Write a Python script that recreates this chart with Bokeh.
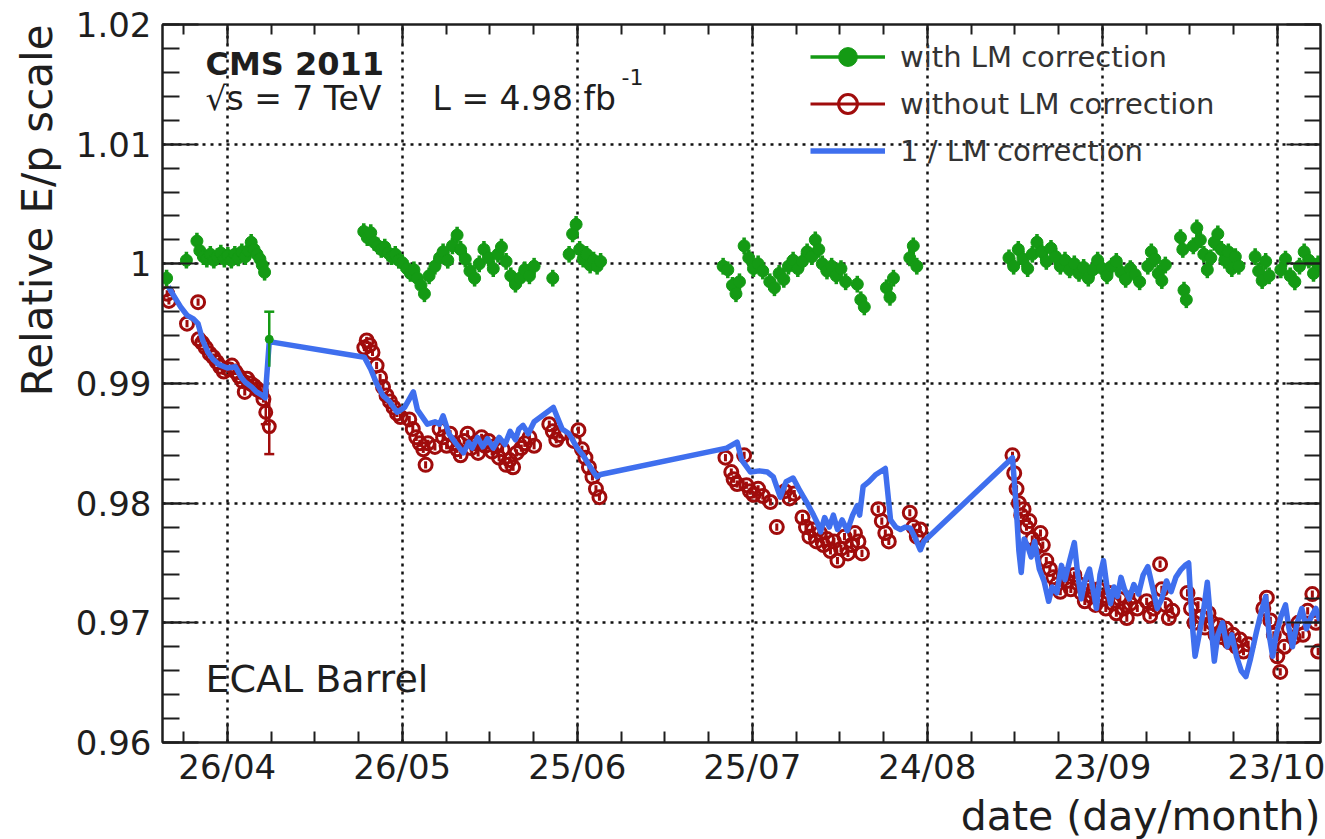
import numpy as np
import pandas as pd
from bokeh.plotting import figure
from bokeh.models import (Range1d, FixedTicker, LinearAxis, DatetimeTickFormatter, Title,
                          CustomJSTickFormatter, Label, Legend, LegendItem, ColumnDataSource)
from bokeh.embed import file_html
from bokeh.resources import INLINE

# ---------------- data (x = days after 26 April 2011, y = relative E/p scale) -------------
REF_DATE = "2011-04-26"

# with LM correction (green)
green_b1 = [(-10.4, 0.9988), (-7.0, 1.0003), (-5.2, 1.0019), (-4.7, 1.0011), (-4.1, 1.0006),
            (-3.5, 1.0004), (-2.9, 1.0008), (-2.3, 1.0003), (-1.7, 1.0006), (-1.1, 1.0009),
            (-0.5, 1.0004), (0.1, 1.0007), (0.7, 1.0003), (1.3, 1.0008), (1.9, 1.0005),
            (2.5, 1.0010), (3.1, 1.0006), (3.6, 1.0011), (4.1, 1.0018), (4.6, 1.0012),
            (5.1, 1.0008), (5.6, 1.0004), (6.0, 0.9999), (6.4, 0.9993)]
green_b2 = [(23.4, 1.0027), (24.0, 1.0022), (24.6, 1.0026), (25.2, 1.0018), (25.8, 1.0015),
            (26.4, 1.0012), (27.0, 1.0014), (27.6, 1.0009), (28.2, 1.0006), (28.8, 1.0008),
            (29.4, 1.0003), (30.0, 1.0001), (30.8, 0.9996), (31.4, 0.9992), (32.0, 0.9995),
            (32.6, 0.9988), (33.2, 0.9982), (33.8, 0.9975), (34.6, 0.9990), (35.6, 0.9998),
            (36.4, 1.0005), (37.0, 1.0010), (37.8, 1.0003), (38.6, 1.0015), (39.4, 1.0024),
            (40.0, 1.0012), (40.8, 1.0004), (41.6, 0.9994), (42.4, 0.9988), (43.2, 1.0000),
            (44.0, 1.0012), (44.8, 1.0005), (45.6, 0.9996), (46.4, 1.0008), (47.0, 1.0014),
            (47.8, 1.0002), (48.6, 0.9990), (49.4, 0.9983), (50.2, 0.9988), (51.0, 0.9995),
            (51.8, 0.9990), (52.6, 0.9998), (55.8, 0.9988), (58.6, 1.0008), (59.2, 1.0025),
            (59.8, 1.0033), (60.4, 1.0012), (61.0, 1.0004), (61.6, 1.0008), (62.2, 0.9999),
            (62.8, 1.0003), (63.4, 0.9998), (64.0, 1.0002)]
green_b3 = [(85.0, 0.9998), (85.8, 0.9995), (86.6, 0.9982), (87.2, 0.9975), (87.8, 0.9985),
            (88.6, 1.0015), (89.4, 1.0005), (90.2, 0.9996), (91.0, 1.0000), (91.8, 0.9994),
            (93.0, 0.9985), (93.8, 0.9980), (94.6, 0.9992), (95.4, 0.9987), (96.2, 0.9998),
            (97.0, 1.0003), (97.8, 0.9996), (98.6, 1.0002), (99.4, 1.0010), (100.2, 1.0006),
            (100.8, 1.0020), (101.4, 1.0012), (102.0, 1.0000), (102.8, 0.9994), (103.6, 0.9998),
            (104.4, 0.9990), (105.2, 0.9996), (106.0, 0.9985), (108.0, 0.9983), (108.6, 0.9970),
            (109.2, 0.9964), (113.0, 0.9980), (113.6, 0.9972), (114.2, 0.9988), (117.0, 1.0005),
            (117.6, 1.0015), (118.2, 0.9998)]
green_b4 = [(134.0, 1.0005), (134.8, 0.9998), (135.6, 1.0012), (136.4, 1.0004), (137.2, 0.9996),
            (138.0, 1.0008), (138.8, 1.0018), (139.6, 1.0010), (140.4, 1.0002), (141.2, 1.0013),
            (142.0, 1.0006), (142.8, 0.9998), (143.6, 1.0003), (144.4, 0.9995), (145.2, 1.0000),
            (146.0, 0.9992), (146.8, 0.9997), (147.6, 0.9988), (148.4, 0.9995), (149.2, 1.0003),
            (150.0, 0.9996), (150.8, 0.9990), (151.6, 0.9998), (152.4, 1.0002), (153.2, 0.9993),
            (154.0, 0.9987), (154.8, 0.9996), (155.6, 0.9991), (156.4, 0.9985), (157.8, 0.9998),
            (158.4, 1.0010), (159.0, 1.0004), (159.6, 0.9992), (160.2, 0.9986), (160.8, 0.9999),
            (163.4, 1.0022), (163.8, 1.0012), (164.0, 0.9978), (164.4, 0.9970), (165.6, 1.0015),
            (166.2, 1.0030), (166.8, 1.0020), (167.4, 1.0008), (168.0, 0.9995), (168.6, 1.0005),
            (169.2, 1.0018), (169.8, 1.0025), (170.4, 1.0012), (171.0, 1.0003), (171.6, 1.0010),
            (172.2, 0.9996), (172.8, 1.0006), (173.4, 0.9998), (176.2, 1.0006), (176.8, 0.9994),
            (177.4, 0.9986), (178.0, 1.0002), (178.6, 0.9990), (180.6, 0.9995), (181.4, 1.0004),
            (182.2, 0.9990), (183.0, 0.9985), (183.8, 0.9998), (184.6, 1.0010), (185.4, 1.0003),
            (186.2, 0.9992), (187.0, 1.0000)]
green_err_typical = 0.0007
green_big = [(7.2, 0.9937, 0.0023)]

# without LM correction (red)
red_b1 = [(-10.3, 0.9975), (-10.0, 0.9969), (-6.9, 0.9950), (-5.0, 0.9968), (-4.9, 0.9937),
          (-4.3, 0.9934), (-3.7, 0.9930), (-3.0, 0.9925), (-2.4, 0.9922), (-1.8, 0.9918),
          (-1.2, 0.9914), (-0.6, 0.9910), (0.2, 0.9912), (0.8, 0.9915), (1.4, 0.9910),
          (2.0, 0.9906), (2.6, 0.9902), (3.0, 0.9893), (3.4, 0.9904), (4.0, 0.9900),
          (4.6, 0.9898), (5.2, 0.9895), (5.8, 0.9893), (6.2, 0.9887)]
red_b2 = [(23.5, 0.9930), (23.9, 0.9936), (24.4, 0.9932), (24.9, 0.9926), (25.6, 0.9915),
          (26.2, 0.9905), (26.7, 0.9897), (27.3, 0.9890), (27.9, 0.9885), (28.5, 0.9880),
          (29.1, 0.9875), (29.7, 0.9872), (31.2, 0.9870), (31.8, 0.9862), (32.4, 0.9855),
          (33.0, 0.9850), (33.6, 0.9845), (34.0, 0.9832), (34.4, 0.9850), (35.6, 0.9847),
          (36.4, 0.9862), (37.0, 0.9855), (37.6, 0.9848), (38.2, 0.9858), (38.8, 0.9850),
          (39.4, 0.9845), (40.0, 0.9840), (40.6, 0.9852), (41.2, 0.9858), (41.8, 0.9846),
          (42.4, 0.9850), (43.0, 0.9842), (43.6, 0.9855), (44.2, 0.9848), (44.8, 0.9852),
          (45.4, 0.9843), (46.0, 0.9848), (46.6, 0.9838), (47.2, 0.9845), (47.8, 0.9832),
          (48.4, 0.9836), (49.0, 0.9830), (49.6, 0.9842), (50.4, 0.9846), (51.0, 0.9850),
          (51.8, 0.9855), (52.6, 0.9848), (55.2, 0.9866), (55.8, 0.9860), (56.4, 0.9853),
          (57.0, 0.9857), (59.4, 0.9852), (60.2, 0.9861), (60.8, 0.9845), (61.4, 0.9838),
          (62.0, 0.9830), (62.6, 0.9822), (63.2, 0.9812), (63.8, 0.9805)]
red_b3 = [(85.4, 0.9838), (86.4, 0.9826), (86.8, 0.9820), (87.4, 0.9816), (88.6, 0.9840),
          (89.0, 0.9815), (89.6, 0.9810), (90.2, 0.9807), (91.0, 0.9812), (91.8, 0.9806),
          (93.1, 0.9801), (94.2, 0.9780), (95.6, 0.9810), (96.4, 0.9804), (97.2, 0.9808),
          (98.6, 0.9788), (99.2, 0.9780), (99.8, 0.9772), (100.4, 0.9778), (101.0, 0.9768),
          (101.6, 0.9775), (102.2, 0.9765), (102.8, 0.9770), (103.4, 0.9760), (104.0, 0.9768),
          (104.6, 0.9752), (105.2, 0.9762), (105.8, 0.9772), (106.4, 0.9758), (107.0, 0.9765),
          (107.6, 0.9775), (108.2, 0.9768), (108.8, 0.9758), (111.6, 0.9795), (112.2, 0.9785),
          (112.8, 0.9775), (113.4, 0.9768), (117.0, 0.9792), (117.6, 0.9780), (118.2, 0.9772),
          (118.8, 0.9778)]
red_b4 = [(134.6, 0.9840), (134.9, 0.9825), (135.3, 0.9812), (135.7, 0.9800), (136.1, 0.9790),
          (136.5, 0.9795), (137.0, 0.9780), (137.5, 0.9785), (138.0, 0.9770), (138.5, 0.9762),
          (139.4, 0.9775), (139.8, 0.9765), (140.4, 0.9752), (141.0, 0.9745), (141.6, 0.9738),
          (142.2, 0.9732), (142.8, 0.9726), (143.4, 0.9740), (144.0, 0.9735), (144.6, 0.9728),
          (145.2, 0.9740), (145.8, 0.9733), (146.4, 0.9725), (147.0, 0.9718), (147.6, 0.9730),
          (148.2, 0.9722), (148.8, 0.9715), (149.4, 0.9728), (150.0, 0.9720), (150.6, 0.9712),
          (151.2, 0.9725), (151.8, 0.9716), (152.4, 0.9708), (153.0, 0.9720), (153.6, 0.9712),
          (154.2, 0.9704), (154.8, 0.9716), (155.4, 0.9722), (156.0, 0.9712), (157.6, 0.9718),
          (158.2, 0.9706), (158.8, 0.9712), (159.9, 0.9749), (160.2, 0.9728), (160.8, 0.9715),
          (161.4, 0.9704), (162.0, 0.9710), (164.6, 0.9725), (165.2, 0.9712), (165.8, 0.9700),
          (166.4, 0.9715), (167.0, 0.9705), (167.6, 0.9696), (168.2, 0.9708), (168.8, 0.9700),
          (169.4, 0.9690), (170.0, 0.9698), (170.6, 0.9688), (171.2, 0.9695), (171.8, 0.9684),
          (172.4, 0.9690), (173.0, 0.9680), (173.6, 0.9686), (174.2, 0.9676), (175.0, 0.9682),
          (177.6, 0.9712), (178.2, 0.9721), (178.8, 0.9702), (179.4, 0.9690), (180.0, 0.9672),
          (180.5, 0.9659), (181.2, 0.9680), (182.0, 0.9695), (182.8, 0.9688), (183.6, 0.9700),
          (184.4, 0.9690), (185.2, 0.9710), (186.0, 0.9724), (186.6, 0.9700), (187.0, 0.9676)]
red_err_typical = 0.0003
red_big = [(6.6, 0.9876, 0.0010), (7.2, 0.9864, 0.0023)]

# 1 / LM correction (blue line)
blue_line = [(-10.1, 0.9981), (-9.0, 0.9972), (-8.0, 0.9964), (-6.9, 0.9957), (-5.8, 0.9954),
             (-5.0, 0.9950), (-4.2, 0.9936), (-3.3, 0.9926), (-2.4, 0.9920), (-1.5, 0.9916),
             (0.0, 0.9913), (1.4, 0.9914), (2.4, 0.9905), (3.1, 0.9901), (4.2, 0.9897),
             (5.0, 0.9893), (6.0, 0.9890), (6.5, 0.9888), (7.2, 0.9935),
             (23.5, 0.9922), (24.6, 0.9912), (25.6, 0.9900), (26.7, 0.9890), (27.8, 0.9885),
             (29.1, 0.9876), (30.4, 0.9880), (31.9, 0.9893), (32.6, 0.9878), (34.3, 0.9866),
             (35.6, 0.9868), (36.4, 0.9866), (37.0, 0.9873), (38.0, 0.9858), (39.2, 0.9850),
             (40.5, 0.9842), (41.4, 0.9851), (42.0, 0.9846), (42.9, 0.9855), (43.8, 0.9847),
             (44.6, 0.9854), (45.6, 0.9846), (46.6, 0.9855), (47.6, 0.9849), (48.5, 0.9860),
             (49.4, 0.9853), (50.0, 0.9862), (50.7, 0.9865), (51.6, 0.9858), (52.6, 0.9868),
             (54.0, 0.9873), (55.9, 0.9880), (57.4, 0.9862), (58.6, 0.9858), (60.0, 0.9846),
             (61.0, 0.9840), (62.0, 0.9832), (62.8, 0.9826), (63.4, 0.9822), (64.0, 0.9824),
             (85.6, 0.9846), (87.4, 0.9851), (88.2, 0.9836), (89.7, 0.9826), (91.2, 0.9827),
             (92.6, 0.9826), (93.6, 0.9822), (94.8, 0.9805), (95.8, 0.9818), (97.0, 0.9821),
             (98.2, 0.9810), (99.4, 0.9800), (100.5, 0.9790), (101.2, 0.9783), (101.7, 0.9776),
             (102.4, 0.9788), (103.2, 0.9780), (103.9, 0.9790), (104.6, 0.9778), (105.4, 0.9786),
             (106.3, 0.9777), (107.2, 0.9790), (108.0, 0.9798), (108.4, 0.9790), (109.0, 0.9814),
             (110.0, 0.9818), (111.2, 0.9824), (112.8, 0.9829), (113.7, 0.9786), (114.6, 0.9780),
             (115.4, 0.9778), (116.2, 0.9780), (117.1, 0.9779), (118.0, 0.9770), (118.8, 0.9761),
             (119.4, 0.9768),
             (134.6, 0.9838), (135.2, 0.9800), (135.7, 0.9760), (136.1, 0.9742), (136.6, 0.9770),
             (137.2, 0.9764), (137.8, 0.9755), (138.4, 0.9768), (139.2, 0.9745), (140.0, 0.9735),
             (140.8, 0.9718), (141.4, 0.9730), (142.2, 0.9725), (143.0, 0.9748), (143.6, 0.9736),
             (144.4, 0.9752), (145.2, 0.9767), (145.8, 0.9740), (146.4, 0.9720), (147.0, 0.9735),
             (147.8, 0.9745), (148.4, 0.9728), (149.0, 0.9712), (149.6, 0.9740), (150.2, 0.9752),
             (150.8, 0.9730), (151.4, 0.9716), (152.0, 0.9730), (152.6, 0.9722), (153.2, 0.9738),
             (153.8, 0.9728), (154.6, 0.9720), (155.4, 0.9732), (156.2, 0.9724), (157.0, 0.9740),
             (157.8, 0.9747), (158.6, 0.9730), (159.4, 0.9712), (160.2, 0.9720), (161.0, 0.9735),
             (161.8, 0.9726), (162.6, 0.9738), (163.4, 0.9744), (164.2, 0.9748), (164.8, 0.9750),
             (165.4, 0.9700), (165.9, 0.9672), (166.6, 0.9690), (167.4, 0.9712), (168.0, 0.9734),
             (168.6, 0.9700), (169.2, 0.9668), (169.8, 0.9690), (170.6, 0.9700), (171.4, 0.9680),
             (172.2, 0.9690), (173.0, 0.9672), (173.8, 0.9660), (174.6, 0.9655), (175.4, 0.9670),
             (176.4, 0.9692), (177.4, 0.9712), (178.0, 0.9722), (178.6, 0.9690), (179.2, 0.9672),
             (179.8, 0.9690), (180.6, 0.9705), (181.4, 0.9715), (182.0, 0.9695), (182.6, 0.9680),
             (183.4, 0.9700), (184.2, 0.9712), (185.0, 0.9695), (185.8, 0.9705), (186.6, 0.9712),
             (187.4, 0.9700)]

x_tick_dates = ["2011-04-26", "2011-05-26", "2011-06-25", "2011-07-25",
                "2011-08-24", "2011-09-23", "2011-10-23"]
x_tick_labels = ["26/04", "26/05", "25/06", "25/07", "24/08", "23/09", "23/10"]
y_tick_values = [0.96, 0.97, 0.98, 0.99, 1.0, 1.01, 1.02]
y_tick_labels = ["0.96", "0.97", "0.98", "0.99", "1", "1.01", "1.02"]
x_view_days = (-11.1, 187.4)
y_view = (0.96, 1.02)

# ---------------- helpers ----------------
DAY_MS = 86400000.0
ref_ms = pd.Timestamp(REF_DATE).value / 1e6


def to_ms(days):
    return ref_ms + np.asarray(days, dtype=float) * DAY_MS


def split(pts):
    a = np.array(pts, dtype=float)
    return a[:, 0], a[:, 1]


GREEN = "#149a14"
RED = "#a00c0c"
BLUE = "#3f6fee"
INK = "#1e1e1e"
FONT = "DejaVu Sans"

gd, gv = split(green_b1 + green_b2 + green_b3 + green_b4)
rd, rv = split(red_b1 + red_b2 + red_b3 + red_b4)
bd, bv = split(blue_line)

p = figure(width=1325, height=839, x_axis_type="datetime", output_backend="svg",
           toolbar_location=None,
           x_range=Range1d(to_ms(x_view_days[0]), to_ms(x_view_days[1])),
           y_range=Range1d(*y_view),
           min_border_left=162, min_border_right=5, min_border_top=24, min_border_bottom=96)
p.outline_line_color = INK
p.outline_line_width = 2
p.background_fill_color = "white"
p.border_fill_color = "white"

# tickers
x_major = [pd.Timestamp(d).value / 1e6 for d in x_tick_dates]
x_minor = [x_major[0] + k * 7.5 * DAY_MS for k in range(-2, 28)]
y_minor = [round(0.96 + 0.002 * k, 4) for k in range(31)]
xticker = FixedTicker(ticks=x_major, minor_ticks=x_minor)
yticker = FixedTicker(ticks=y_tick_values, minor_ticks=y_minor)

xa = p.xaxis[0]
xa.ticker = xticker
xa.formatter = DatetimeTickFormatter(days="%d/%m", months="%d/%m", years="%d/%m",
                                     hours="%d/%m", minutes="%d/%m", seconds="%d/%m",
                                     milliseconds="%d/%m", minsec="%d/%m", hourmin="%d/%m")
xa.major_label_overrides = dict(zip(x_major, x_tick_labels))
ya = p.yaxis[0]
ya.ticker = yticker
ya.major_label_overrides = dict(zip(y_tick_values, y_tick_labels))

for ax, tin, tmin, stand in ((xa, 20, 11, 4), (ya, 36, 17, 11)):
    ax.major_tick_in = tin
    ax.major_tick_out = 0
    ax.minor_tick_in = tmin
    ax.minor_tick_out = 0
    ax.major_label_standoff = stand
    ax.major_label_text_font = FONT
    ax.major_label_text_font_size = "34px"
    ax.major_label_text_color = INK
    ax.axis_line_width = 2
    ax.axis_line_color = INK
    ax.major_tick_line_width = 2
    ax.minor_tick_line_width = 2
    ax.major_tick_line_color = INK
    ax.minor_tick_line_color = INK

blank = CustomJSTickFormatter(code="return ''")
top = LinearAxis(ticker=xticker, formatter=blank, major_label_standoff=0,
                 major_tick_in=20, major_tick_out=0, minor_tick_in=10, minor_tick_out=0,
                 axis_line_width=2, major_tick_line_width=2, minor_tick_line_width=2,
                 axis_line_color=INK, major_tick_line_color=INK, minor_tick_line_color=INK)
right = LinearAxis(ticker=yticker, formatter=blank, major_label_standoff=0,
                   major_tick_in=34, major_tick_out=0, minor_tick_in=16, minor_tick_out=0,
                   axis_line_width=2, major_tick_line_width=2, minor_tick_line_width=2,
                   axis_line_color=INK, major_tick_line_color=INK, minor_tick_line_color=INK)
p.add_layout(top, "above")
p.add_layout(right, "right")

# axis titles (ROOT style: aligned to the end of each axis)
x_title = Title(text="date (day/month)", align="right", text_font=FONT, text_font_size="41px",
                text_font_style="normal", text_color=INK, standoff=0)
y_title = Title(text="Relative E/p scale", align="right", text_font=FONT, text_font_size="42px",
                text_font_style="normal", text_color=INK, standoff=21)
p.add_layout(x_title, "below")
p.add_layout(y_title, "left")

p.xgrid.ticker = xticker
p.ygrid.ticker = yticker
for g in (p.xgrid, p.ygrid):
    g.grid_line_color = "#111111"
    g.grid_line_dash = "3 5"
    g.grid_line_width = 2.5

# ---------------- glyphs ----------------
red_src = ColumnDataSource(dict(x=to_ms(rd), y=rv, lo=rv - red_err_typical, hi=rv + red_err_typical))
r_err = p.segment(x0="x", y0="lo", x1="x", y1="hi", source=red_src, line_color=RED, line_width=3)
rbd, rbv, rbe = np.array(red_big, dtype=float).T
rbig_src = ColumnDataSource(dict(x=to_ms(rbd), y=rbv, lo=rbv - rbe, hi=rbv + rbe))
p.segment(x0="x", y0="lo", x1="x", y1="hi", source=rbig_src, line_color=RED, line_width=2.5)
p.scatter(x="x", y="lo", source=rbig_src, marker="dash", size=10, line_color=RED, line_width=2.5)
r_pts = p.scatter(x="x", y="y", source=red_src, marker="circle", size=13, fill_color=None,
                  line_color=RED, line_width=3)
p.scatter(x="x", y="y", source=rbig_src, marker="circle", size=12, fill_color=None,
          line_color=RED, line_width=3)

b_line = p.line(to_ms(bd), bv, line_color=BLUE, line_width=5.5, line_join="round")

green_src = ColumnDataSource(dict(x=to_ms(gd), y=gv, lo=gv - green_err_typical, hi=gv + green_err_typical))
g_err = p.segment(x0="x", y0="lo", x1="x", y1="hi", source=green_src, line_color=GREEN, line_width=3.5)
gbd, gbv, gbe = np.array(green_big, dtype=float).T
gbig_src = ColumnDataSource(dict(x=to_ms(gbd), y=gbv, lo=gbv - gbe, hi=gbv + gbe))
p.segment(x0="x", y0="lo", x1="x", y1="hi", source=gbig_src, line_color=GREEN, line_width=2.5)
p.scatter(x="x", y="hi", source=gbig_src, marker="dash", size=10, line_color=GREEN, line_width=2.5)
g_pts = p.scatter(x="x", y="y", source=green_src, marker="circle", size=12,
                  fill_color=GREEN, line_color=GREEN)
p.scatter(x="x", y="y", source=gbig_src, marker="circle", size=8, fill_color=GREEN, line_color=GREEN)

# ---------------- legend ----------------
legend = Legend(items=[LegendItem(label="with LM correction", renderers=[g_err, g_pts]),
                       LegendItem(label="without LM correction", renderers=[r_err, r_pts]),
                       LegendItem(label="1 / LM correction", renderers=[b_line])],
                location=(648, 568), glyph_width=75, glyph_height=47, label_height=47,
                label_standoff=15, padding=0, spacing=0, margin=0,
                border_line_color=None, background_fill_alpha=0,
                label_text_font=FONT, label_text_font_size="29px", label_text_color="#333333")
p.add_layout(legend)

# ---------------- texts inside the frame (screen units from the frame's lower-left) --------
def lab(x, y, text, size, **kw):
    p.add_layout(Label(x=x, y=y, x_units="screen", y_units="screen", text=text,
                       text_font=FONT, text_font_size=size, text_color=INK, **kw))


lab(43, 660, "CMS 2011", "32px", text_font_style="bold")
lab(43, 625, "\u221as = 7 TeV", "33px")
lab(270, 625, "L = 4.98 fb", "33px")
lab(459, 658, "-1", "22px")
lab(43, 42, "ECAL Barrel", "38px")

open("out.html", "w").write(file_html(p, INLINE))
